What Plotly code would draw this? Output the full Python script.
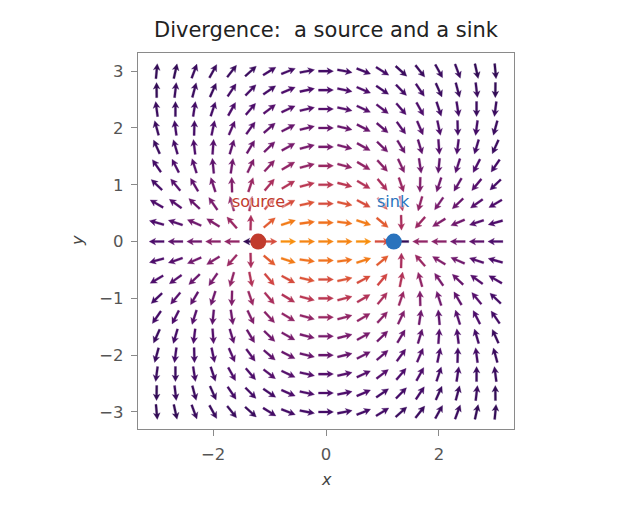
import numpy as np
import plotly.graph_objects as go
from plotly.colors import sample_colorscale

# grid of arrow positions (19 x 19, spacing 1/3)
grid_x = [-3.0, -2.667, -2.333, -2.0, -1.667, -1.333, -1.0, -0.667, -0.333, 0.0,
          0.333, 0.667, 1.0, 1.333, 1.667, 2.0, 2.333, 2.667, 3.0]
grid_y = [-3.0, -2.667, -2.333, -2.0, -1.667, -1.333, -1.0, -0.667, -0.333, 0.0,
          0.333, 0.667, 1.0, 1.333, 1.667, 2.0, 2.333, 2.667, 3.0]

# the two point charges
charge_names = ["source", "sink"]
charge_x = [-1.2, 1.2]
charge_y = [0.0, 0.0]
charge_q = [1.0, -1.0]
charge_colors = ["#c13b2d", "#2a73bd"]
softening = 0.5

x_ticks = [-2, 0, 2]
y_ticks = [-3, -2, -1, 0, 1, 2, 3]

# field on the grid
X, Y = np.meshgrid(grid_x, grid_y)
U = np.zeros_like(X)
V = np.zeros_like(X)
for cx, cy, q in zip(charge_x, charge_y, charge_q):
    dx = X - cx
    dy = Y - cy
    r2 = dx**2 + dy**2 + softening**2
    U += q * dx / r2
    V += q * dy / r2
mag = np.hypot(U, V)
ux = (U / mag).ravel()
uy = (V / mag).ravel()
px_c = X.ravel()
py_c = Y.ravel()
tval = np.clip(0.11 + 0.43 * mag.ravel(), 0, 1)

# arrow shape in pixels -> data units
ppu = 56.5
L = 15.0 / ppu
sw = 1.05 / ppu
hl = 6.5 / ppu
hw = 3.4 / ppu
ha = 5.3 / ppu

nbins = 48
bins = np.round(tval * nbins).astype(int)

fig = go.Figure()
for b in sorted(set(bins)):
    xs, ys = [], []
    for i in np.where(bins == b)[0]:
        dx, dy = ux[i], uy[i]
        nx, ny = -dy, dx
        tx, ty = px_c[i] - dx * L / 2, py_c[i] - dy * L / 2
        hx, hy = px_c[i] + dx * L / 2, py_c[i] + dy * L / 2
        sx, sy = hx - dx * ha, hy - dy * ha
        bx, by = hx - dx * hl, hy - dy * hl
        pts = [
            (tx + nx * sw, ty + ny * sw),
            (sx + nx * sw, sy + ny * sw),
            (bx + nx * hw, by + ny * hw),
            (hx, hy),
            (bx - nx * hw, by - ny * hw),
            (sx - nx * sw, sy - ny * sw),
            (tx - nx * sw, ty - ny * sw),
            (tx + nx * sw, ty + ny * sw),
        ]
        xs += [p[0] for p in pts] + [None]
        ys += [p[1] for p in pts] + [None]
    col = sample_colorscale("Inferno", [b / nbins])[0]
    fig.add_trace(go.Scatter(x=xs, y=ys, mode="lines", fill="toself",
                             fillcolor=col, line=dict(color=col, width=0.3),
                             hoverinfo="skip", showlegend=False))

fig.add_trace(go.Scatter(x=charge_x, y=charge_y, mode="markers",
                         marker=dict(size=16, color=charge_colors, line=dict(width=0)),
                         hoverinfo="skip", showlegend=False))

annotations = []
for name, cx, cy, col in zip(charge_names, charge_x, charge_y, charge_colors):
    annotations.append(dict(x=cx, y=cy + 0.7, text=name, showarrow=False,
                            font=dict(family="DejaVu Sans", size=16, color=col,
                                      shadow="0 0 2px white, 0 0 3px white, 0 0 4px white"),
                            xanchor="center", yanchor="middle"))
annotations.append(dict(x=0.5, y=-0.133, xref="paper", yref="paper", text="x",
                        showarrow=False, font=dict(family="DejaVu Sans", size=16,
                                                   color="#444", style="italic"),
                        xanchor="center", yanchor="middle"))
annotations.append(dict(x=-0.162, y=0.5, xref="paper", yref="paper", text="y",
                        showarrow=False, textangle=-90,
                        font=dict(family="DejaVu Sans", size=16, color="#444",
                                  style="italic"),
                        xanchor="center", yanchor="middle"))

axis_style = dict(showgrid=False, zeroline=False, showline=True, mirror=True,
                  linecolor="#8a8a8a", linewidth=1.3, ticks="outside", ticklen=6,
                  tickcolor="#8a8a8a", tickwidth=1.2,
                  tickfont=dict(family="DejaVu Sans", size=16.5, color="#555"))

fig.update_layout(
    width=630, height=510, autosize=False,
    margin=dict(l=130, r=124, t=45, b=89),
    paper_bgcolor="white", plot_bgcolor="white",
    title=dict(text="Divergence:  a source and a sink", x=0.5, xref="paper",
               xanchor="center", y=1 - 22 / 510, yref="container", yanchor="middle",
               font=dict(family="DejaVu Sans", size=21, color="#222")),
    xaxis=dict(range=[-3.33, 3.33], tickvals=x_ticks, ticklabelstandoff=4, **axis_style),
    yaxis=dict(range=[-3.3, 3.32], tickvals=y_ticks, ticklabelstandoff=4, **axis_style),
    annotations=annotations,
)

fig.write_html("out.html")
